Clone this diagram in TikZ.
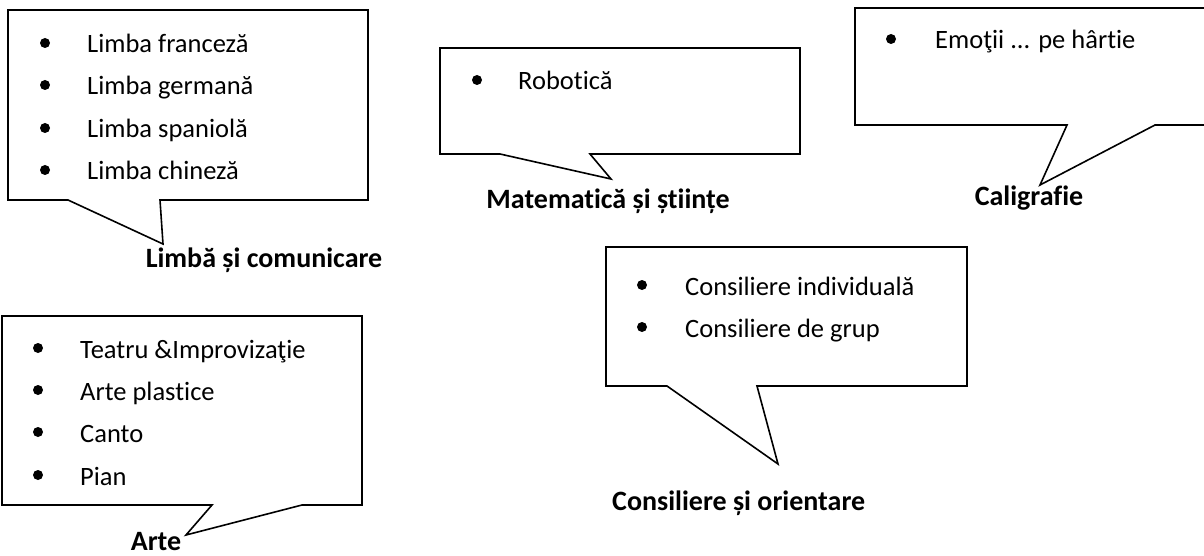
\documentclass[tikz,border=0pt]{standalone}
\usepackage{fontspec}
\setmainfont{Carlito}[Ligatures=NoCommon]
\begin{document}
\begin{tikzpicture}[x=1pt,y=-1pt,
  callout/.style={draw=black,line width=1.6pt,line join=miter,fill=white},
  bul/.style={circle,fill=black,inner sep=0pt,minimum size=10pt},
  item/.style={anchor=base west,inner sep=0pt,font=\fontsize{26.5}{32}\selectfont},
  lab/.style={anchor=base,inner sep=0pt,font=\fontsize{28}{34}\selectfont\bfseries}]
\useasboundingbox (0,0) rectangle (1204,556);
\clip (0,0) rectangle (1204,556);
% callout shapes
\draw[callout] (8,10) -- (368,10) -- (368,200) -- (160,200) -- (163,244) -- (68,200) -- (8,200) -- cycle;
\draw[callout] (440,48) -- (800,48) -- (800,154) -- (590,154) -- (611,179) -- (500,154) -- (440,154) -- cycle;
\draw[callout] (855,8) -- (1215,8) -- (1215,125) -- (1155,125) -- (1040,185) -- (1067,125) -- (855,125) -- cycle;
\draw[callout] (2,316) -- (362,316) -- (362,505) -- (302,505) -- (186,535) -- (212,505) -- (2,505) -- cycle;
\draw[callout] (606,247) -- (967,247) -- (967,386) -- (757,386) -- (778,464) -- (667,386) -- (606,386) -- cycle;
% box 1
\node[bul] (b1a) at (45,43) {};
\node[bul] (b1b) at (45,85) {};
\node[bul] (b1c) at (45,128) {};
\node[bul] (b1d) at (45,170) {};
\node[item] (t1a) at (87,53) {Limba franceză};
\node[item] (t1b) at (87,95) {Limba germană};
\node[item] (t1c) at (87,138) {Limba spaniolă};
\node[item] (t1d) at (87,180) {Limba chineză};
\node[lab] (l1) at (264,267) {Limbă și comunicare};
% box 2
\node[bul] (b2a) at (477,80) {};
\node[item] (t2a) at (518,90) {Robotică};
\node[lab] (l2) at (608,208) {Matematică și științe};
% box 3
\node[bul] (b3a) at (891,39) {};
\node[item] (t3a) at (935,49) {Emoţii ... pe hârtie};
\node[lab] (l3) at (1029,206) {Caligrafie};
% box 4
\node[bul] (b4a) at (38,348) {};
\node[bul] (b4b) at (38,390) {};
\node[bul] (b4c) at (38,432) {};
\node[bul] (b4d) at (38,475) {};
\node[item] (t4a) at (80,358) {Teatru \&Improvizaţie};
\node[item] (t4b) at (80,400) {Arte plastice};
\node[item] (t4c) at (80,442) {Canto};
\node[item] (t4d) at (80,485) {Pian};
\node[lab] (l4) at (156,550) {Arte};
% box 5
\node[bul] (b5a) at (642,285) {};
\node[bul] (b5b) at (642,327) {};
\node[item] (t5a) at (685,295) {Consiliere individuală};
\node[item] (t5b) at (685,337) {Consiliere de grup};
\node[lab,anchor=base west] (l5) at (612,510) {Consiliere și orientare};
\end{tikzpicture}
\end{document}
